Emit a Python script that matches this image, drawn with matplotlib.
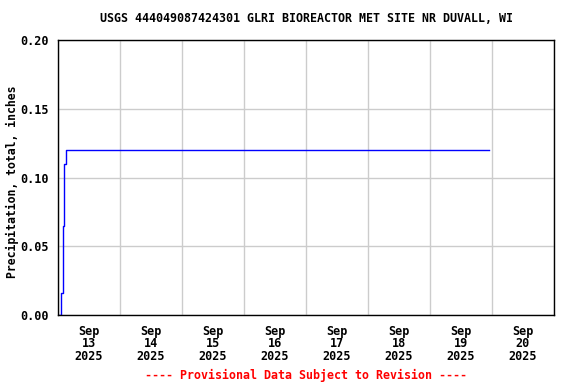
import matplotlib
matplotlib.use("Agg")
import matplotlib.pyplot as plt
import pandas as pd

# Precipitation, cumulative (inches)
times = ["2025-09-13 00:00", "2025-09-13 01:15", "2025-09-13 01:45",
         "2025-09-13 02:30", "2025-09-13 03:00", "2025-09-19 22:45"]
values = [0.00, 0.016, 0.065, 0.11, 0.12, 0.12]

day_labels = ["Sep\n13\n2025", "Sep\n14\n2025", "Sep\n15\n2025", "Sep\n16\n2025",
              "Sep\n17\n2025", "Sep\n18\n2025", "Sep\n19\n2025", "Sep\n20\n2025"]
yticks = [0.00, 0.05, 0.10, 0.15, 0.20]

t = pd.to_datetime(times)
font = "DejaVu Sans Mono"

fig = plt.figure(figsize=(5.76, 3.84), dpi=100)
ax = fig.add_axes([0.1007, 0.1797, 0.8611, 0.7161])

ax.plot(t, values, color="blue", lw=1, drawstyle="steps-post")

x0 = pd.Timestamp("2025-09-13")
x1 = pd.Timestamp("2025-09-21")
ax.set_xlim(x0, x1)
ax.set_ylim(0, 0.2)

major = pd.date_range(x0, x1, freq="D")
ax.set_xticks(major)
ax.set_xticklabels([])
noon = major[:-1] + pd.Timedelta(hours=12)
ax.set_xticks(noon, minor=True)
ax.set_xticklabels(day_labels, minor=True, fontfamily=font, fontweight="bold",
                   fontsize=8.5, linespacing=0.95)
ax.tick_params(axis="x", which="both", length=0, pad=7)

ax.set_yticks(yticks)
ax.set_yticklabels(["%.2f" % v for v in yticks], fontfamily=font, fontweight="bold", fontsize=8.5)
ax.tick_params(axis="y", length=0, pad=7)

ax.grid(True, which="major", color="#cccccc", lw=1)
ax.set_axisbelow(True)
for s in ax.spines.values():
    s.set_linewidth(1)
    s.set_color("black")

fig.text(0.021, 0.526, "Precipitation, total, inches", rotation=90,
         ha="center", va="center", fontfamily=font, fontweight="bold", fontsize=8.3)
fig.text(0.5315, 0.953, "USGS 444049087424301 GLRI BIOREACTOR MET SITE NR DUVALL, WI",
         ha="center", va="center", fontfamily=font, fontweight="bold", fontsize=8.4)
fig.text(0.5315, 0.023, "---- Provisional Data Subject to Revision ----",
         ha="center", va="center", fontfamily=font, fontweight="bold", fontsize=8.4, color="red")

fig.savefig("out.png", dpi=100)
